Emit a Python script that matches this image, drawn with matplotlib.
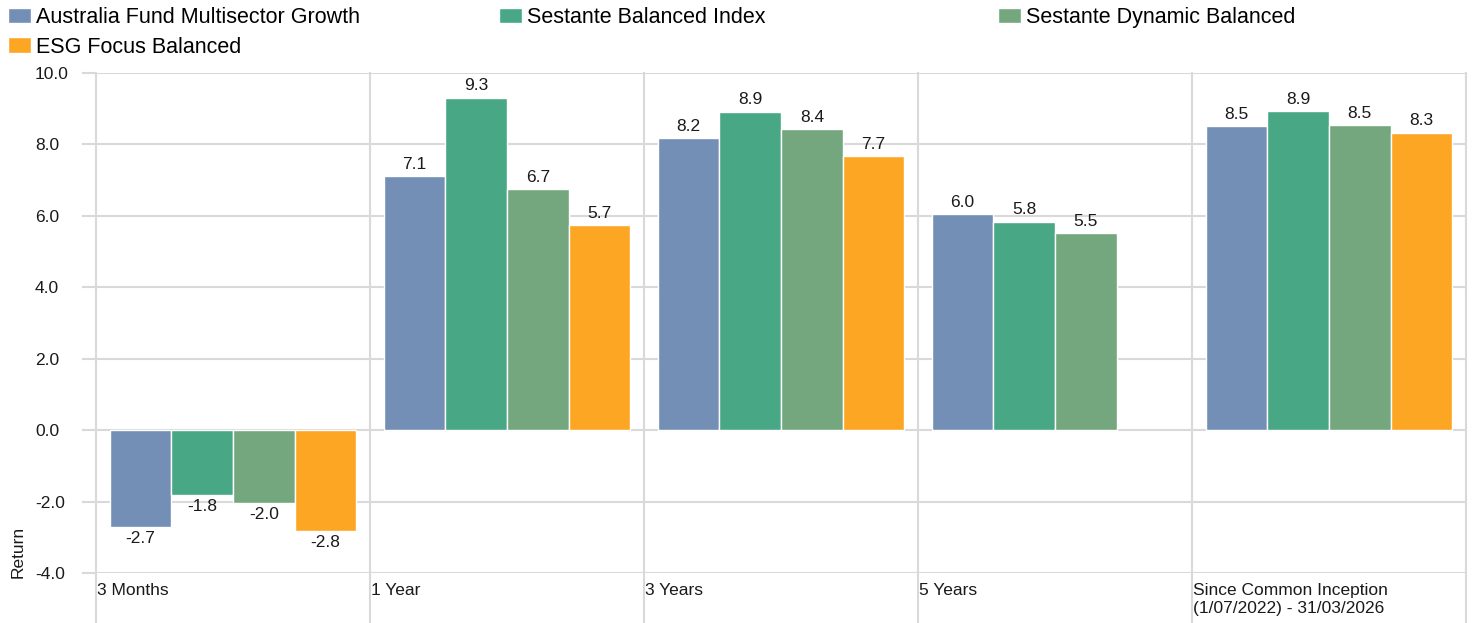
import numpy as np
import matplotlib
matplotlib.use("Agg")
import matplotlib.pyplot as plt
from matplotlib.transforms import ScaledTranslation

plt.rcParams['font.family'] = ['Liberation Sans', 'DejaVu Sans']

categories = ["3 Months", "1 Year", "3 Years", "5 Years",
              "Since Common Inception\n(1/07/2022) - 31/03/2026"]
series_names = ["Australia Fund Multisector Growth", "Sestante Balanced Index",
                "Sestante Dynamic Balanced", "ESG Focus Balanced"]
aus_growth = [-2.72, 7.11, 8.18, 6.04, 8.52]
sest_index = [-1.82, 9.31, 8.92, 5.84, 8.94]
sest_dynamic = [-2.04, 6.74, 8.44, 5.52, 8.54]
esg_focus = [-2.81, 5.74, 7.67, np.nan, 8.33]
yticks = [-4.0, -2.0, 0.0, 2.0, 4.0, 6.0, 8.0, 10.0]

colors = ["#738fb5", "#48a886", "#74a77d", "#fda624"]
grid_c = "#d9d9d9"
txt_c = "#1a1a1a"

W, H = 1474, 623
fig = plt.figure(figsize=(W / 100, H / 100), dpi=100)
ax = fig.add_axes([96 / W, (H - 573) / H, (1466 - 96) / W, 500 / H])

x = np.arange(len(categories))
bw = 0.225
all_series = [aus_growth, sest_index, sest_dynamic, esg_focus]
handles = []
for i, (vals, c) in enumerate(zip(all_series, colors)):
    off = (i - 1.5) * bw
    bars = ax.bar(x + off, vals, bw, color=c, edgecolor="white", linewidth=1,
                  label=series_names[i], zorder=3)
    labels = ["" if np.isnan(v) else f"{v:.1f}" for v in vals]
    ax.bar_label(bars, labels=labels, padding=3, fontsize=12.5, color=txt_c)
    handles.append(bars)

ax.set_xlim(-0.5, len(categories) - 0.5)
ax.set_ylim(-4, 10)
for s in ax.spines.values():
    s.set_visible(False)

# horizontal gridlines
ax.set_yticks(yticks)
ax.set_yticklabels([f"{v:.1f}" for v in yticks], ha="left")
ax.yaxis.grid(True, color=grid_c, linewidth=1.5, zorder=0)
ax.tick_params(axis="y", length=10, width=1.5, color=grid_c, pad=34,
               labelsize=12.5, labelcolor=txt_c)

# vertical category separators extending below the axis
xt = ax.get_xaxis_transform()
for b in np.arange(-0.5, len(categories), 1.0):
    ax.plot([b, b], [-0.1, 1.0], transform=xt, color=grid_c, linewidth=1.5,
            clip_on=False, zorder=0)

ax.set_xticks(np.arange(-0.5, len(categories) - 0.5, 1.0))
ax.set_xticklabels(categories, ha="left", va="top", fontsize=12.5,
                   color=txt_c, linespacing=1.25)
ax.tick_params(axis="x", length=0, pad=7)
for lbl in ax.get_xticklabels():
    lbl.set_transform(lbl.get_transform() + ScaledTranslation(1 / 100, 0, fig.dpi_scale_trans))

ax.set_ylabel("Return", fontsize=12.5, color=txt_c, loc="bottom")
ax.yaxis.set_label_coords(-70 / (1466 - 96), -0.01)

leg_kw = dict(frameon=False, fontsize=15.5, handlelength=1.05, handleheight=0.75,
              handletextpad=0.25, labelspacing=0.4, borderpad=0, borderaxespad=0)
top = 1 - 7 / H
fig.legend([handles[0], handles[3]], [series_names[0], series_names[3]],
           loc="upper left", bbox_to_anchor=(8 / W, top), **leg_kw)
fig.legend([handles[1]], [series_names[1]],
           loc="upper left", bbox_to_anchor=(499 / W, top), **leg_kw)
fig.legend([handles[2]], [series_names[2]],
           loc="upper left", bbox_to_anchor=(998 / W, top), **leg_kw)

fig.savefig("out.png", dpi=100)
